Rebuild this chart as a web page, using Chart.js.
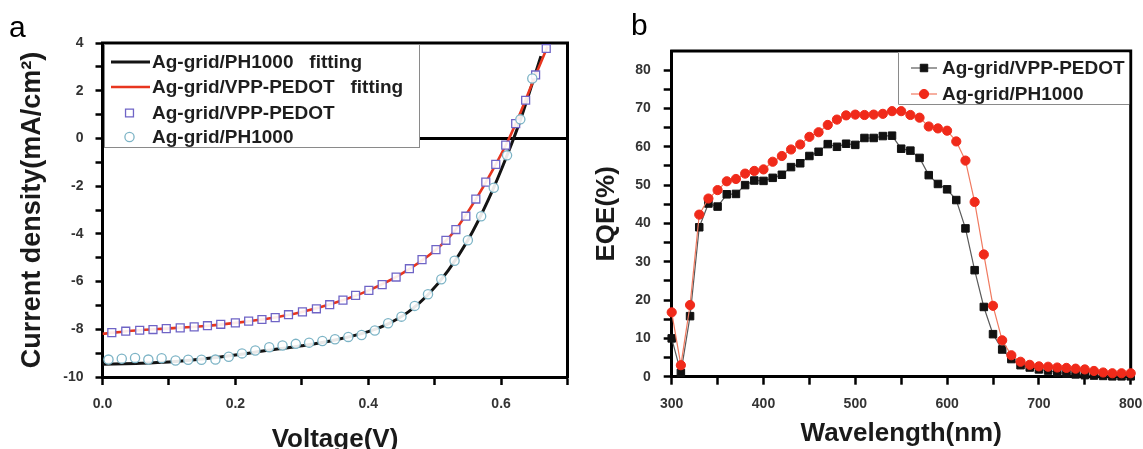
<!DOCTYPE html>
<html><head><meta charset="utf-8">
<script src="https://cdn.jsdelivr.net/npm/chart.js@4.4.1/dist/chart.umd.min.js"></script>
<style>
html,body{margin:0;padding:0;background:#fff;width:1143px;height:449px;overflow:hidden;}
#wrapA{position:absolute;left:0;top:0;width:580px;height:449px;}
#wrapB{position:absolute;left:580px;top:0;width:563px;height:449px;}
.plabel{position:absolute;z-index:5;font-family:"Liberation Sans",Arial,sans-serif;font-size:30px;color:#000;line-height:1;}
</style></head><body>
<div id="wrapA"><canvas id="cA"></canvas></div>
<div id="wrapB"><canvas id="cB"></canvas></div>
<div class="plabel" style="left:9px;top:12px">a</div>
<div class="plabel" style="left:631px;top:10px">b</div>
<script>
const FONT = '"Liberation Sans", Arial, Helvetica, sans-serif';

// ---------- Panel a: J-V ----------
const voltageVPP = [0.014,0.035,0.056,0.076,0.096,0.117,0.138,0.158,0.178,0.200,0.220,0.240,0.260,0.280,0.301,0.322,0.342,0.362,0.381,0.401,0.421,0.442,0.462,0.481,0.502,0.517,0.532,0.547,0.562,0.577,0.592,0.607,0.622,0.637,0.652,0.668];
const currentVPP = [-8.14,-8.08,-8.04,-8.01,-7.97,-7.94,-7.90,-7.85,-7.79,-7.73,-7.66,-7.59,-7.51,-7.39,-7.27,-7.14,-6.97,-6.78,-6.58,-6.37,-6.13,-5.81,-5.46,-5.08,-4.66,-4.27,-3.82,-3.26,-2.54,-1.83,-1.09,-0.28,0.62,1.60,2.66,3.77];
const voltagePH = [0.009,0.029,0.049,0.069,0.089,0.110,0.129,0.149,0.170,0.190,0.210,0.230,0.251,0.271,0.291,0.311,0.331,0.350,0.370,0.390,0.410,0.430,0.450,0.470,0.490,0.510,0.530,0.550,0.570,0.589,0.609,0.629,0.647];
const currentPH = [-9.27,-9.23,-9.20,-9.27,-9.21,-9.31,-9.28,-9.28,-9.27,-9.15,-9.01,-8.89,-8.75,-8.68,-8.61,-8.56,-8.49,-8.42,-8.32,-8.24,-8.05,-7.75,-7.47,-7.02,-6.53,-5.90,-5.13,-4.27,-3.26,-2.07,-0.71,0.80,2.51];
const fitVoltageVPP = [0.000,0.050,0.100,0.150,0.200,0.250,0.300,0.350,0.400,0.450,0.500,0.530,0.560,0.590,0.610,0.630,0.650,0.670];
const fitCurrentVPP = [-8.19,-8.05,-7.96,-7.87,-7.73,-7.55,-7.28,-6.89,-6.38,-5.68,-4.71,-3.88,-2.64,-1.19,-0.12,1.14,2.52,3.85];
const fitVoltagePH = [0.000,0.050,0.100,0.150,0.200,0.250,0.300,0.350,0.400,0.430,0.460,0.490,0.520,0.550,0.580,0.610,0.630,0.660];
const fitCurrentPH = [-9.47,-9.43,-9.37,-9.25,-9.08,-8.88,-8.69,-8.45,-8.10,-7.77,-7.28,-6.55,-5.55,-4.27,-2.62,-0.64,0.85,3.45];
const labelsA = ['Ag-grid/PH1000   fitting','Ag-grid/VPP-PEDOT   fitting','Ag-grid/VPP-PEDOT','Ag-grid/PH1000'];

// ---------- Panel b: EQE ----------
const wavelength = [300,310,320,330,340,350,360,370,380,390,400,410,420,430,440,450,460,470,480,490,500,510,520,530,540,550,560,570,580,590,600,610,620,630,640,650,660,670,680,690,700,710,720,730,740,750,760,770,780,790,800];
const eqeVPP = [10.0,1.0,15.8,39.0,45.2,44.4,47.6,47.7,50.0,51.2,51.1,51.9,52.7,54.7,55.7,57.6,58.7,60.7,60.0,60.8,60.5,62.3,62.3,62.8,62.9,59.5,59.0,57.1,52.6,50.3,48.9,46.1,38.7,27.8,18.2,11.1,7.1,4.6,3.0,2.4,1.9,1.6,1.1,0.8,0.6,0.4,0.3,0.2,0.1,0.1,0.1];
const eqePH = [16.8,3.0,18.7,42.3,46.5,48.7,51.0,51.6,53.0,53.7,54.1,56.1,57.6,59.3,60.6,62.6,63.8,65.7,67.1,68.2,68.4,68.3,68.4,68.6,69.3,69.3,68.3,67.6,65.3,64.8,64.2,61.4,56.4,45.6,31.9,18.5,9.5,5.6,3.9,3.1,2.7,2.6,2.4,2.3,2.1,1.9,1.5,1.1,0.9,0.9,0.9];
const labelsB = ['Ag-grid/VPP-PEDOT','Ag-grid/PH1000'];

const pts = (xs, ys) => xs.map((x, i) => ({x: x, y: ys[i]}));

const tickFont = {family: FONT, size: 14, weight: 'bold'};
const titleFont = {family: FONT, size: 26, weight: 'bold'};

// frame: top and right border lines
const framePlugin = {
  id: 'frame',
  beforeDatasetsDraw(chart) {
    const {ctx, chartArea: a} = chart;
    ctx.save();
    ctx.strokeStyle = '#000';
    ctx.lineWidth = 3;
    ctx.beginPath();
    ctx.moveTo(a.left - 1.5, a.top);
    ctx.lineTo(a.right, a.top);
    ctx.lineTo(a.right, a.bottom + 1.5);
    ctx.stroke();
    ctx.restore();
  }
};

function drawMarker(ctx, ds, x, y) {
  Chart.helpers.drawPoint(ctx, {
    pointStyle: ds.pointStyle, radius: ds.pointRadius, rotation: 0,
    borderWidth: ds.pointBorderWidth
  }, x, y);
}

const legendA = {
  id: 'legendA',
  afterDatasetsDraw(chart) {
    const {ctx, chartArea: a} = chart;
    const ds = chart.data.datasets;
    ctx.save();
    const x0 = a.left + 1.5, y0 = a.top + 1.5, x1 = 419, y1 = 147;
    ctx.fillStyle = '#fff';
    ctx.fillRect(x0, y0, x1 - x0, y1 - y0);
    ctx.strokeStyle = '#8a8a8a';
    ctx.lineWidth = 1;
    ctx.strokeRect(x0 + 0.5, y0, x1 - x0, y1 - y0 + 0.5);
    const rows = [62, 87, 113, 137];
    ctx.font = 'bold 19px ' + FONT;
    ctx.textBaseline = 'middle';
    ctx.textAlign = 'left';
    ds.forEach((d, i) => {
      const y = rows[i];
      if (d.pointRadius === 0) {
        ctx.strokeStyle = d.borderColor;
        ctx.lineWidth = d.borderWidth;
        ctx.beginPath();
        ctx.moveTo(111, y); ctx.lineTo(150, y);
        ctx.stroke();
      } else {
        ctx.strokeStyle = d.pointBorderColor;
        ctx.fillStyle = d.pointBackgroundColor;
        ctx.lineWidth = d.pointBorderWidth;
        drawMarker(ctx, d, 129.5, y);
      }
      ctx.fillStyle = '#1e1e1e';
      ctx.fillText(d.label, 152, y + 1);
    });
    ctx.restore();
  }
};

const legendB = {
  id: 'legendB',
  afterDatasetsDraw(chart) {
    const {ctx, chartArea: a} = chart;
    const ds = chart.data.datasets;
    ctx.save();
    const x0 = 318, y0 = a.top + 1.5, x1 = a.right - 1.5, y1 = 104;
    ctx.fillStyle = '#fff';
    ctx.fillRect(x0, y0, x1 - x0, y1 - y0);
    ctx.strokeStyle = '#8a8a8a';
    ctx.lineWidth = 1;
    ctx.beginPath();
    ctx.moveTo(x0 + 0.5, y0); ctx.lineTo(x0 + 0.5, y1 + 0.5); ctx.lineTo(x1, y1 + 0.5);
    ctx.stroke();
    const rows = [68, 94];
    ctx.font = 'bold 19px ' + FONT;
    ctx.textBaseline = 'middle';
    ctx.textAlign = 'left';
    ds.forEach((d, i) => {
      const y = rows[i];
      ctx.strokeStyle = d.borderColor;
      ctx.lineWidth = d.borderWidth;
      ctx.beginPath();
      ctx.moveTo(331, y); ctx.lineTo(357, y);
      ctx.stroke();
      ctx.strokeStyle = d.pointBorderColor;
      ctx.fillStyle = d.pointBackgroundColor;
      ctx.lineWidth = d.pointBorderWidth;
      drawMarker(ctx, d, 344, y);
      ctx.fillStyle = '#1e1e1e';
      ctx.fillText(d.label, 362, y + 1);
    });
    ctx.restore();
  }
};

function fixXAxis(h) {
  return function (s) { s.height = h; s.paddingLeft = 0; s.paddingRight = 0; };
}
function fixYAxis(w) {
  return function (s) { s.width = w; s.paddingTop = 0; s.paddingBottom = 0; };
}

// ---------- Chart a ----------
new Chart(document.getElementById('cA'), {
  type: 'line',
  data: {
    datasets: [
      {label: labelsA[0], data: pts(fitVoltagePH, fitCurrentPH), borderColor: '#141414', borderWidth: 3,
       pointRadius: 0, cubicInterpolationMode: 'monotone', order: 3},
      {label: labelsA[1], data: pts(fitVoltageVPP, fitCurrentVPP), borderColor: '#e8361f', borderWidth: 2.6,
       pointRadius: 0, cubicInterpolationMode: 'monotone', order: 2},
      {label: labelsA[2], data: pts(voltageVPP, currentVPP), showLine: false, pointStyle: 'rect',
       pointRadius: 5.6, pointBorderWidth: 1.3, pointBorderColor: '#6f64c6', pointBackgroundColor: 'rgba(255,255,255,0.9)',
       borderColor: '#6f64c6', clip: false, order: 1},
      {label: labelsA[3], data: pts(voltagePH, currentPH), showLine: false, pointStyle: 'circle',
       pointRadius: 4.6, pointBorderWidth: 1.3, pointBorderColor: '#7db4c6', pointBackgroundColor: 'rgba(255,255,255,0.9)',
       borderColor: '#7db4c6', clip: false, order: 0}
    ]
  },
  options: {
    responsive: true, maintainAspectRatio: false, animation: false, devicePixelRatio: 1,
    layout: {padding: {top: 43, right: 12.5, left: 0, bottom: 0}},
    plugins: {legend: {display: false}, tooltip: {enabled: false}},
    scales: {
      x: {
        type: 'linear', min: 0, max: 0.7,
        afterFit: fixXAxis(72),
        border: {display: true, color: '#000', width: 3},
        grid: {drawOnChartArea: false, tickLength: 8, tickWidth: 2.5, tickColor: '#000'},
        ticks: {stepSize: 0.1, autoSkip: false, maxRotation: 0, padding: 11, color: '#333', font: tickFont,
          callback: (v) => { const k = Math.round(v * 10); return k % 2 === 0 ? (k / 10).toFixed(1) : ''; }},
        title: {display: true, text: 'Voltage(V)', color: '#1a1a1a', font: titleFont, padding: {top: 0, bottom: -6}}
      },
      y: {
        type: 'linear', min: -10, max: 4,
        afterFit: fixYAxis(102.5),
        border: {display: true, color: '#000', width: 3},
        grid: {drawOnChartArea: true, tickLength: 7, tickWidth: 2.5, tickColor: '#000',
          color: (c) => (c.tick && c.tick.value === 0) ? '#000' : 'rgba(0,0,0,0)',
          lineWidth: (c) => (c.tick && c.tick.value === 0) ? 3 : 1},
        ticks: {stepSize: 1, autoSkip: false, padding: 12, color: '#333', font: tickFont,
          callback: (v) => (Math.round(v) % 2 === 0 ? String(Math.round(v)) : '')},
        title: {display: true, text: 'Current density(mA/cm²)', color: '#1a1a1a',
          font: {family: FONT, size: 27, weight: 'bold'}, padding: {top: 16, bottom: 0}}
      }
    }
  },
  plugins: [framePlugin, legendA]
});

// ---------- Chart b ----------
new Chart(document.getElementById('cB'), {
  type: 'line',
  data: {
    datasets: [
      {label: labelsB[0], data: pts(wavelength, eqeVPP), borderColor: '#5a5a5a', borderWidth: 1.2,
       pointStyle: 'rect', pointRadius: 5.3, pointBorderWidth: 1, pointBorderColor: '#111',
       pointBackgroundColor: '#111', clip: false, order: 2},
      {label: labelsB[1], data: pts(wavelength, eqePH), borderColor: '#f07a60', borderWidth: 1.2,
       pointStyle: 'circle', pointRadius: 4.6, pointBorderWidth: 1, pointBorderColor: '#f02a1a',
       pointBackgroundColor: '#f02a1a', clip: false, order: 1}
    ]
  },
  options: {
    responsive: true, maintainAspectRatio: false, animation: false, devicePixelRatio: 1,
    layout: {padding: {top: 51, right: 12.3, left: 0, bottom: 0}},
    plugins: {legend: {display: false}, tooltip: {enabled: false}},
    scales: {
      x: {
        type: 'linear', min: 300, max: 800,
        afterFit: fixXAxis(72.3),
        border: {display: true, color: '#000', width: 3},
        grid: {drawOnChartArea: false, tickLength: 8, tickWidth: 2.5, tickColor: '#000'},
        ticks: {stepSize: 50, autoSkip: false, maxRotation: 0, padding: 11, color: '#333', font: tickFont,
          callback: (v) => (v % 100 === 0 ? String(v) : '')},
        title: {display: true, text: 'Wavelength(nm)', color: '#1a1a1a', font: titleFont, padding: {top: 0, bottom: 0}}
      },
      y: {
        type: 'linear', min: 0, max: 85,
        afterBuildTicks(s) { s.ticks = s.ticks.filter(t => t.value <= 80); },
        afterFit: fixYAxis(91.7),
        border: {display: true, color: '#000', width: 3},
        grid: {drawOnChartArea: false, tickLength: 8, tickWidth: 2.5, tickColor: '#000'},
        ticks: {stepSize: 5, autoSkip: false, padding: 13, color: '#333', font: tickFont,
          callback: (v) => (v % 10 === 0 ? String(v) : '')},
        title: {display: true, text: 'EQE(%)', color: '#1a1a1a', font: titleFont, padding: {top: 11, bottom: 0}}
      }
    }
  },
  plugins: [framePlugin, legendB]
});
</script>
</body></html>
